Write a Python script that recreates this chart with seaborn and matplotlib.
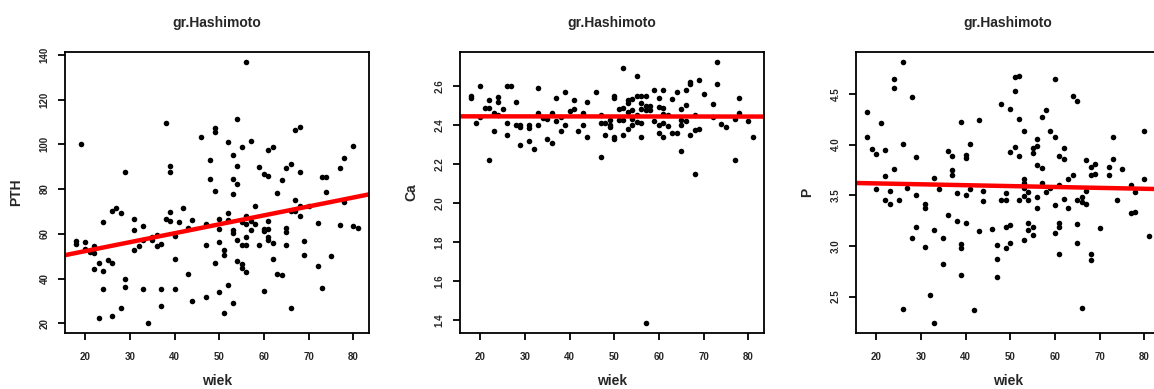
import matplotlib
matplotlib.use("Agg")
import matplotlib.pyplot as plt
import numpy as np
import pandas as pd
import seaborn as sns

# --- PTH vs age ---
wiek_pth = [19, 29, 38, 39, 39, 26, 27, 28, 31, 38, 39, 42, 44, 18, 18, 20, 20, 21, 22, 22,
            22, 23, 23, 24, 24, 24, 25, 26, 26, 28, 29, 29, 31, 31, 32, 33, 33, 33, 34, 35,
            35, 36, 36, 37, 37, 37, 39, 40, 40, 40, 41, 43, 43, 44, 56, 54, 49, 49, 46, 52,
            57, 55, 53, 48, 54, 61, 62, 67, 68, 80, 78, 77, 59, 60, 61, 64, 65, 66, 68, 48,
            53, 54, 49, 53, 63, 73, 74, 74, 58, 67, 68, 70, 67, 66, 68, 78, 52, 56, 47, 50,
            50, 52, 53, 53, 55, 56, 57, 57, 58, 60, 60, 61, 61, 61, 61, 62, 59, 56, 54, 55,
            56, 51, 51, 50, 47, 65, 65, 65, 69, 69, 72, 77, 80, 81, 62, 75, 72, 49, 54, 55,
            55, 56, 63, 64, 52, 50, 47, 53, 60, 73, 66, 51]
pth = [100.2, 87.6, 109.4, 90.2, 87.6, 70.3, 71.4, 69.3, 66.8, 66.6, 69.8, 71.6, 66.3, 56.7,
       55.5, 56.2, 53.3, 51.9, 54.4, 51.5, 44.2, 47.0, 22.5, 65.4, 43.3, 35.3, 48.5, 47.0, 23.3,
       27.0, 39.6, 36.3, 61.6, 52.7, 54.4, 63.3, 57.3, 35.1, 20.3, 57.0, 58.5, 59.6, 54.4, 55.5,
       35.3, 27.7, 65.6, 59.2, 48.6, 35.3, 65.1, 62.5, 41.8, 30.1, 136.6, 111.5, 107.2, 105.7,
       103.2, 101.2, 101.5, 98.7, 95.0, 93.2, 90.4, 97.5, 98.8, 106.4, 107.6, 99.2, 93.9, 89.5,
       89.9, 86.8, 85.9, 84.0, 89.2, 91.4, 87.8, 84.4, 84.6, 82.4, 79.2, 77.6, 78.2, 85.6, 85.3,
       78.8, 72.3, 74.9, 72.3, 72.3, 70.0, 70.0, 67.8, 74.0, 69.3, 67.8, 64.5, 66.6, 62.3, 66.0,
       61.6, 60.4, 65.1, 64.5, 65.6, 61.9, 64.5, 62.2, 61.1, 62.2, 65.6, 58.6, 57.4, 55.9, 54.9,
       58.6, 57.4, 55.2, 55.2, 52.7, 50.3, 56.4, 55.2, 62.6, 60.8, 55.2, 56.7, 50.5, 64.8, 63.7,
       63.3, 62.5, 48.7, 50.0, 45.4, 46.9, 47.7, 46.7, 44.8, 43.0, 41.8, 41.5, 37.2, 34.1, 31.7,
       29.2, 34.4, 35.6, 26.7, 24.5]

# --- Ca vs age ---
wiek_ca = [18, 18, 19, 20, 20, 21, 22, 22, 22, 23, 23, 24, 24, 24, 25, 26, 27, 26, 26, 28,
           28, 29, 29, 29, 31, 31, 31, 32, 33, 33, 33, 34, 35, 35, 36, 36, 37, 37, 38, 38,
           39, 39, 40, 41, 41, 42, 43, 43, 44, 44, 46, 47, 47, 47, 48, 48, 49, 49, 49, 50,
           50, 50, 50, 51, 51, 52, 52, 52, 52, 53, 53, 53, 53, 54, 54, 54, 54, 55, 55, 55,
           55, 56, 56, 56, 56, 56, 57, 57, 57, 57, 58, 58, 59, 59, 60, 60, 60, 60, 61, 61,
           61, 61, 61, 62, 62, 63, 63, 64, 64, 65, 65, 65, 65, 66, 66, 66, 67, 67, 67, 68,
           68, 68, 69, 69, 70, 72, 72, 73, 73, 74, 75, 77, 77, 78, 78, 80, 81]
ca = [2.55, 2.537, 2.41, 2.60, 2.44, 2.489, 2.529, 2.489, 2.219, 2.372, 2.464, 2.542, 2.52,
      2.452, 2.481, 2.60, 2.60, 2.41, 2.35, 2.52, 2.40, 2.40, 2.389, 2.30, 2.40, 2.384, 2.32,
      2.28, 2.59, 2.464, 2.40, 2.435, 2.43, 2.33, 2.46, 2.31, 2.54, 2.42, 2.372, 2.44, 2.57,
      2.40, 2.47, 2.529, 2.48, 2.372, 2.46, 2.40, 2.52, 2.341, 2.57, 2.452, 2.41, 2.239, 2.413,
      2.35, 2.427, 2.40, 2.389, 2.549, 2.537, 2.341, 2.33, 2.48, 2.427, 2.69, 2.489, 2.427,
      2.35, 2.529, 2.512, 2.469, 2.379, 2.532, 2.478, 2.43, 2.40, 2.651, 2.549, 2.452, 2.418,
      2.549, 2.512, 2.481, 2.413, 2.341, 2.549, 2.498, 2.478, 1.389, 2.498, 2.478, 2.58, 2.421,
      2.54, 2.494, 2.40, 2.362, 2.58, 2.486, 2.457, 2.41, 2.341, 2.452, 2.396, 2.532, 2.362,
      2.362, 2.57, 2.481, 2.427, 2.40, 2.27, 2.58, 2.503, 2.423, 2.622, 2.609, 2.35, 2.452,
      2.375, 2.149, 2.631, 2.379, 2.559, 2.508, 2.44, 2.721, 2.609, 2.406, 2.389, 2.43, 2.219,
      2.54, 2.46, 2.42, 2.341]

# --- P vs age ---
wiek_p = [18, 18, 19, 20, 20, 21, 22, 22, 22, 23, 23, 24, 24, 24, 25, 26, 26, 26, 27, 28,
          28, 29, 29, 29, 31, 31, 31, 32, 33, 33, 33, 34, 35, 35, 36, 36, 37, 37, 37, 38,
          38, 39, 39, 39, 39, 40, 40, 40, 40, 41, 41, 42, 43, 43, 44, 44, 46, 47, 47, 47,
          48, 48, 49, 49, 49, 49, 50, 50, 50, 50, 51, 52, 51, 51, 52, 52, 52, 53, 53, 53,
          53, 53, 53, 54, 54, 54, 54, 55, 55, 55, 55, 56, 56, 56, 56, 56, 57, 57, 57, 58,
          58, 59, 59, 60, 60, 60, 60, 61, 61, 61, 61, 61, 62, 62, 62, 63, 63, 64, 64, 65,
          65, 65, 65, 66, 66, 66, 67, 67, 67, 68, 69, 68, 69, 68, 68, 70, 72, 72, 73, 73,
          74, 75, 77, 77, 78, 78, 80, 80, 81]
p = [4.32, 4.07, 3.96, 3.91, 3.557, 4.21, 3.95, 3.69, 3.45, 3.54, 3.41, 4.65, 4.56, 3.76,
     3.45, 4.81, 4.01, 2.382, 3.574, 4.47, 3.08, 3.88, 3.50, 3.19, 3.41, 3.377, 2.99, 2.516,
     3.67, 3.157, 2.244, 3.557, 3.08, 2.818, 3.94, 3.31, 3.89, 3.747, 3.70, 3.525, 3.25, 4.22,
     3.02, 2.976, 2.71, 3.895, 3.87, 3.50, 3.23, 4.01, 3.557, 2.37, 4.244, 3.146, 3.54, 3.44,
     3.17, 3.005, 2.867, 2.69, 4.404, 3.45, 3.45, 3.518, 3.19, 2.976, 4.355, 3.93, 3.21, 3.025,
     4.667, 4.673, 4.526, 3.978, 4.254, 3.885, 3.45, 4.13, 3.656, 3.623, 3.574, 3.491, 3.058,
     3.53, 3.45, 3.23, 3.157, 3.968, 3.919, 3.19, 3.107, 4.05, 3.99, 3.80, 3.48, 3.37, 4.27,
     3.77, 3.623, 4.34, 3.53, 4.13, 3.574, 4.65, 4.07, 3.40, 3.13, 3.89, 3.60, 3.23, 3.19,
     2.917, 3.968, 3.86, 3.46, 3.656, 3.37, 4.483, 3.70, 4.43, 3.45, 3.22, 3.03, 3.485, 3.436,
     2.39, 3.85, 3.54, 3.41, 3.78, 3.81, 3.695, 3.71, 2.917, 2.858, 3.18, 3.78, 3.70, 4.07,
     3.86, 3.45, 3.754, 3.60, 3.32, 3.33, 3.53, 4.13, 3.656, 3.10]

x_ticks = [20, 30, 40, 50, 60, 70, 80]
pth_ticks = [20, 40, 60, 80, 100, 120, 140]
ca_ticks = [1.4, 1.6, 1.8, 2.0, 2.2, 2.4, 2.6]
p_ticks = [2.5, 3.0, 3.5, 4.0, 4.5]

title = "gr.Hashimoto"
xlabel = "wiek"

sns.set_theme(style="white")
plt.rcParams['font.family'] = ['Liberation Sans', 'DejaVu Sans']


def padded(lo, hi, frac=0.04):
    span = hi - lo
    return lo - frac * span, hi + frac * span


panels = [
    (wiek_pth, pth, "PTH", pth_ticks, "{:.0f}", 65),
    (wiek_ca, ca, "Ca", ca_ticks, "{:.1f}", 460),
    (wiek_p, p, "P", p_ticks, "{:.1f}", 856),
]

W, H = 1154, 389
fig = plt.figure(figsize=(W / 100, H / 100), dpi=100)

for ages, vals, name, yticks, fmt, left in panels:
    ax = fig.add_axes([left / W, 56 / H, 304 / W, 281 / H])
    df = pd.DataFrame({"wiek": ages, name: vals})
    ax.set_xlim(*padded(min(ages), max(ages)))
    ax.set_ylim(*padded(min(vals), max(vals)))
    sns.regplot(data=df, x="wiek", y=name, ax=ax, ci=None, truncate=False,
                scatter_kws=dict(s=16, color="black", linewidths=0, alpha=1),
                line_kws=dict(color="red", lw=3.2))
    ax.set_xlim(*padded(min(ages), max(ages)))
    ax.set_ylim(*padded(min(vals), max(vals)))

    ax.set_xticks(x_ticks)
    ax.set_yticks(yticks)
    ax.set_yticklabels([fmt.format(v) for v in yticks])
    ax.tick_params(axis="both", which="major", direction="out", length=5, width=1.3,
                   color="black", labelsize=7, bottom=True, left=True)
    ax.tick_params(axis="x", pad=9)
    ax.tick_params(axis="y", pad=6, labelrotation=90)
    for lab in ax.get_yticklabels():
        lab.set_va("center")
        lab.set_fontweight("bold")
    for lab in ax.get_xticklabels():
        lab.set_fontweight("bold")
    for sp in ax.spines.values():
        sp.set_color("black")
        sp.set_linewidth(1.3)
        sp.set_visible(True)

    ax.set_title(title, fontsize=10, fontweight="bold", pad=18)
    ax.set_xlabel(xlabel, fontsize=10, fontweight="bold", labelpad=8)
    ax.set_ylabel(name, fontsize=10, fontweight="bold", labelpad=12)

fig.savefig("out.png", dpi=100)
